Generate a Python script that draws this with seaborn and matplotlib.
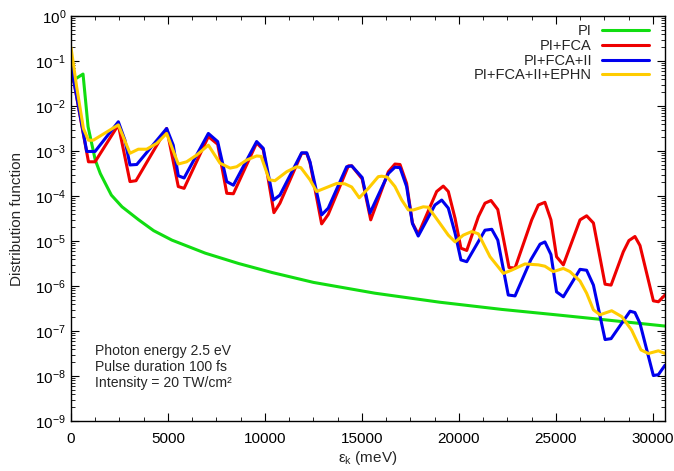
import numpy as np
import pandas as pd
import matplotlib
matplotlib.use("Agg")
import matplotlib.pyplot as plt
import seaborn as sns
from matplotlib.ticker import MultipleLocator, LogLocator, NullFormatter

# ---- data (energy in meV, values stored as log10 of distribution function) ----
pi_x = [0, 620, 880, 1250, 1510, 1770, 2080, 2630, 3490, 4260, 5200, 6920, 8640,
        10360, 12500, 15670, 19000, 22200, 25000, 27500, 30620]
pi_log = [-1.46, -1.29, -2.46, -3.20, -3.50, -3.72, -3.98, -4.24, -4.53, -4.77, -4.98,
          -5.27, -5.50, -5.70, -5.92, -6.16, -6.36, -6.52, -6.64, -6.75, -6.89]

fca_x = [0, 550, 900, 1240, 2440, 3040, 3350, 4930, 5530, 5830, 7080, 7560, 8030, 8370,
         9570, 9910, 10460, 10770, 11890, 12150, 12320, 12920, 13260, 14300, 14470, 15010,
         15450, 16360, 16700, 16960, 17300, 17600, 17900, 18850, 19190, 19450, 19800,
         20100, 20400, 21000, 21340, 21650, 22000, 22580, 22890, 23750, 24090, 24430,
         24740, 25030, 25380, 26240, 26580, 26930, 27530, 27840, 28470, 28760, 29070,
         29330, 30020, 30280, 30620]
fca_log = [-1.10, -2.42, -3.24, -3.24, -2.42, -3.68, -3.66, -2.50, -3.79, -3.83, -2.68,
           -2.85, -3.94, -3.95, -2.82, -2.97, -4.37, -4.16, -3.05, -3.05, -3.26, -4.62,
           -4.41, -3.33, -3.33, -3.62, -4.53, -3.46, -3.29, -3.30, -3.72, -4.60, -4.85,
           -3.90, -3.78, -3.90, -4.50, -5.16, -5.21, -4.46, -4.16, -4.10, -4.30, -5.59,
           -5.60, -4.53, -4.20, -4.14, -4.53, -5.35, -5.53, -4.53, -4.44, -4.60, -5.96,
           -5.98, -5.24, -4.99, -4.90, -5.10, -6.33, -6.35, -6.20]

ii_x = [0, 810, 1240, 2440, 2780, 3040, 3390, 4930, 5270, 5530, 5830, 7080, 7560, 8030,
        8370, 9570, 9910, 10430, 10770, 11890, 12150, 12320, 12920, 13260, 14210, 14470,
        15010, 15410, 16360, 16700, 16960, 17300, 17600, 17900, 18760, 19110, 19450,
        19800, 20100, 20400, 21340, 21690, 22000, 22540, 22890, 23700, 24180, 24430,
        24740, 25030, 25380, 26240, 26580, 26930, 27530, 27840, 28820, 29070, 29330,
        30020, 30280, 30620]
ii_log = [-1.10, -3.01, -3.01, -2.35, -2.76, -3.31, -3.30, -2.50, -2.87, -3.55, -3.60,
          -2.61, -2.79, -3.68, -3.76, -2.79, -2.94, -4.09, -3.98, -3.04, -3.04, -3.24,
          -4.42, -4.27, -3.35, -3.33, -3.59, -4.38, -3.50, -3.36, -3.37, -3.79, -4.61,
          -4.89, -4.20, -4.09, -4.27, -4.83, -5.42, -5.46, -4.76, -4.74, -4.98, -6.20,
          -6.22, -5.42, -5.07, -5.02, -5.30, -6.13, -6.24, -5.63, -5.65, -5.98, -7.19,
          -7.17, -6.56, -6.59, -6.83, -7.99, -7.97, -7.76]

ephn_x = [0, 290, 640, 900, 1150, 2440, 3040, 3470, 3900, 4420, 4930, 5530, 5960, 6480,
          7080, 7680, 8200, 8540, 9060, 9570, 9800, 10220, 10510, 11120, 11630, 11850,
          12320, 12660, 13180, 13700, 14120, 14470, 14860, 15330, 15840, 16020, 16300,
          16700, 17050, 17390, 17650, 18160, 18420, 19020, 19450, 19800, 20220, 20660,
          21000, 21600, 22290, 22700, 23400, 24090, 24430, 24860, 25380, 25720, 26240,
          26580, 26930, 27270, 27870, 28390, 28900, 29380, 29760, 30280, 30620]
ephn_log = [-0.70, -1.57, -2.50, -2.76, -2.76, -2.42, -3.05, -2.96, -2.96, -2.83, -2.61,
            -3.29, -3.24, -3.09, -2.87, -3.27, -3.38, -3.35, -3.20, -3.11, -3.12, -3.64,
            -3.66, -3.46, -3.35, -3.37, -3.64, -3.90, -3.81, -3.72, -3.73, -3.80, -4.04,
            -3.83, -3.57, -3.56, -3.58, -3.79, -4.09, -4.31, -4.31, -4.24, -4.25, -4.61,
            -4.87, -5.02, -4.87, -4.79, -4.84, -5.35, -5.72, -5.65, -5.51, -5.53, -5.56,
            -5.68, -5.61, -5.68, -5.89, -6.16, -6.53, -6.64, -6.55, -6.68, -6.98, -7.42,
            -7.50, -7.44, -7.50]

series_names = ["PI", "PI+FCA", "PI+FCA+II", "PI+FCA+II+EPHN"]
series_colors = ["#11dd11", "#ee0000", "#0000ee", "#ffcc00"]
x_ticks = [0, 5000, 10000, 15000, 20000, 25000, 30000]
annotation = "Photon energy 2.5 eV\nPulse duration 100 fs\nIntensity = 20 TW/cm²"

frames = []
for name, xs, ls in zip(series_names, [pi_x, fca_x, ii_x, ephn_x],
                        [pi_log, fca_log, ii_log, ephn_log]):
    frames.append(pd.DataFrame({"energy": xs, "f": np.power(10.0, ls), "series": name}))
df = pd.concat(frames, ignore_index=True)

sns.set_theme(style="ticks")
plt.rcParams["font.family"] = ["Liberation Sans", "DejaVu Sans"]
plt.rcParams["mathtext.fontset"] = "custom"
plt.rcParams["mathtext.rm"] = "Liberation Sans"
plt.rcParams["mathtext.it"] = "Liberation Sans:italic"
plt.rcParams["axes.unicode_minus"] = False

fig = plt.figure(figsize=(6.74, 4.71), dpi=100)
ax = fig.add_axes([71 / 674, 1 - 421 / 471, (665 - 71) / 674, (421 - 16) / 471])

sns.lineplot(data=df, x="energy", y="f", hue="series", hue_order=series_names,
             palette=series_colors, estimator=None, sort=False, linewidth=2.2, ax=ax,
             legend=True)

ax.set_yscale("log")
ax.set_ylim(1e-9, 1)
ax.set_xlim(0, 30620)
ax.set_xticks(x_ticks)
ax.set_xticklabels([str(t) for t in x_ticks])
ax.xaxis.set_minor_locator(MultipleLocator(1250))
ax.yaxis.set_major_locator(LogLocator(base=10, numticks=20))
ax.yaxis.set_minor_locator(LogLocator(base=10, subs=np.arange(2, 10), numticks=20))
ax.yaxis.set_minor_formatter(NullFormatter())
ax.tick_params(axis="both", which="both", direction="in", top=True, right=True,
               labelsize=11, colors="black")
ax.tick_params(which="major", length=6, width=0.8)
ax.tick_params(which="minor", length=3, width=0.6)
ax.tick_params(axis="x", pad=8)
for s in ax.spines.values():
    s.set_linewidth(1.0)
    s.set_color("black")

ax.set_xlabel("ε$_\\mathregular{k}$ (meV)", fontsize=11, labelpad=2)
ax.set_ylabel("Distribution function", fontsize=11, labelpad=8)

ax.text(24 / 594, (421 - 367) / 405, annotation, transform=ax.transAxes,
        fontsize=10.1, va="center", ha="left", linespacing=1.15)

handles, labels = ax.get_legend_handles_labels()
ax.legend(handles, labels, loc="upper right", bbox_to_anchor=(0.99, 1.005),
          frameon=False, markerfirst=False, fontsize=10.5, labelspacing=0.05,
          handlelength=3.2, handletextpad=0.7, borderpad=0.2)

fig.savefig("out.png", dpi=100)
